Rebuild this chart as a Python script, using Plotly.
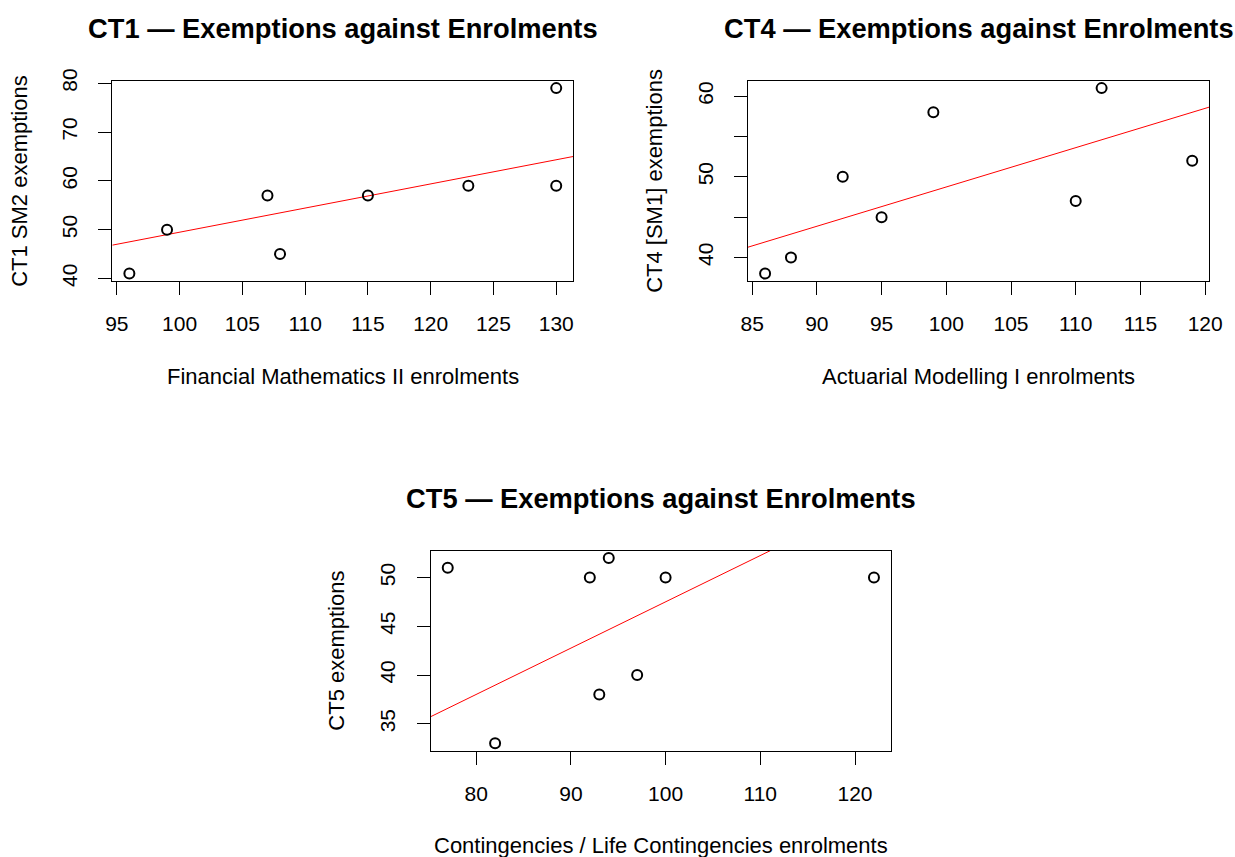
import plotly.graph_objects as go

# ---------------- data ----------------
ct1_enrol = [96, 99, 107, 108, 115, 123, 130, 130]
ct1_exempt = [41, 50, 57, 45, 57, 59, 79, 59]

ct4_enrol = [86, 88, 92, 95, 99, 110, 112, 119]
ct4_exempt = [38, 40, 50, 45, 58, 47, 61, 52]

ct5_enrol = [77, 82, 92, 93, 94, 97, 100, 122]
ct5_exempt = [51, 33, 50, 38, 52, 40, 50, 50]

ct1_xticks = [95, 100, 105, 110, 115, 120, 125, 130]
ct1_yticks = [40, 50, 60, 70, 80]
ct4_xticks = [85, 90, 95, 100, 105, 110, 115, 120]
ct4_yticks = [40, 45, 50, 55, 60]
ct4_ylabels = ["40", "", "50", "", "60"]
ct5_xticks = [80, 90, 100, 110, 120]
ct5_yticks = [35, 40, 45, 50]

titles = ["CT1 \u2014 Exemptions against Enrolments",
          "CT4 \u2014 Exemptions against Enrolments",
          "CT5 \u2014 Exemptions against Enrolments"]
xlabels = ["Financial Mathematics II enrolments",
           "Actuarial Modelling I enrolments",
           "Contingencies / Life Contingencies enrolments"]
ylabels = ["CT1 SM2 exemptions", "CT4 [SM1] exemptions", "CT5 exemptions"]

# ---------------- helpers ----------------
W, H = 1235, 857
FONT = "Liberation Sans, Arial, Helvetica, sans-serif"


def rrange(v):
    lo, hi = min(v), max(v)
    d = (hi - lo) * 0.04
    return [lo - d, hi + d]


def origin_slope(x, y):
    return sum(a * b for a, b in zip(x, y)) / sum(a * a for a in x)


def px(x):
    return x / W


def py(y):
    return 1 - y / H


panels = [
    dict(x=ct1_enrol, y=ct1_exempt, xt=ct1_xticks, yt=ct1_yticks, ytt=[str(v) for v in ct1_yticks],
         box=(112.3, 573.3, 80.7, 281.0), ytitle_x=20),
    dict(x=ct4_enrol, y=ct4_exempt, xt=ct4_xticks, yt=ct4_yticks, ytt=ct4_ylabels,
         box=(748.0, 1209.3, 80.7, 281.0), ytitle_x=655),
    dict(x=ct5_enrol, y=ct5_exempt, xt=ct5_xticks, yt=ct5_yticks, ytt=[str(v) for v in ct5_yticks],
         box=(430.7, 891.0, 550.7, 750.7), ytitle_x=337),
]

fig = go.Figure()
annotations = []
layout = {}

for i, p in enumerate(panels):
    n = "" if i == 0 else str(i + 1)
    xa, ya = "x" + n, "y" + n
    xr, yr = rrange(p["x"]), rrange(p["y"])
    slope = origin_slope(p["x"], p["y"])

    fig.add_trace(go.Scatter(
        x=[xr[0], xr[1]], y=[slope * xr[0], slope * xr[1]],
        mode="lines", line=dict(color="#ff0000", width=1),
        xaxis=xa, yaxis=ya, showlegend=False, hoverinfo="skip"))
    fig.add_trace(go.Scatter(
        x=p["x"], y=p["y"], mode="markers",
        marker=dict(symbol="circle-open", size=10, color="black", line=dict(width=2, color="black")),
        xaxis=xa, yaxis=ya, showlegend=False, cliponaxis=False))

    l, r, t, b = p["box"]
    common = dict(showgrid=False, zeroline=False, showline=True, mirror=True,
                  linecolor="black", linewidth=1, ticks="outside", ticklen=13,
                  tickwidth=1, tickcolor="black", automargin=False,
                  tickfont=dict(family=FONT, size=21, color="black"))
    layout["xaxis" + n] = dict(domain=[px(l), px(r)], range=xr, anchor=ya,
                               tickmode="array", tickvals=p["xt"], ticktext=[str(v) for v in p["xt"]],
                               ticklabelstandoff=11, **common)
    layout["yaxis" + n] = dict(domain=[py(b), py(t)], range=yr, anchor=xa,
                               tickmode="array", tickvals=p["yt"], ticktext=p["ytt"],
                               tickangle=-90, ticklabelstandoff=13, **common)

    cx = (l + r) / 2
    # main title
    annotations.append(dict(text="<b>" + titles[i] + "</b>", xref="paper", yref="paper",
                            x=px(cx), y=py(t - 52), xanchor="center", yanchor="middle",
                            showarrow=False, font=dict(family=FONT, size=27.3, color="black")))
    # x axis title
    annotations.append(dict(text=xlabels[i], xref="paper", yref="paper",
                            x=px(cx), y=py(b + 95), xanchor="center", yanchor="middle",
                            showarrow=False, font=dict(family=FONT, size=22, color="black")))
    # y axis title
    annotations.append(dict(text=ylabels[i], xref="paper", yref="paper", textangle=-90,
                            x=px(p["ytitle_x"]), y=py((t + b) / 2), xanchor="center", yanchor="middle",
                            showarrow=False, font=dict(family=FONT, size=22, color="black")))

fig.update_layout(width=W, height=H, margin=dict(l=0, r=0, t=0, b=0),
                  paper_bgcolor="white", plot_bgcolor="white",
                  annotations=annotations, **layout)

fig.write_html("out.html",
               config={"displayModeBar": False},
               post_script="document.body.style.margin='0';document.body.style.overflow='hidden';")
